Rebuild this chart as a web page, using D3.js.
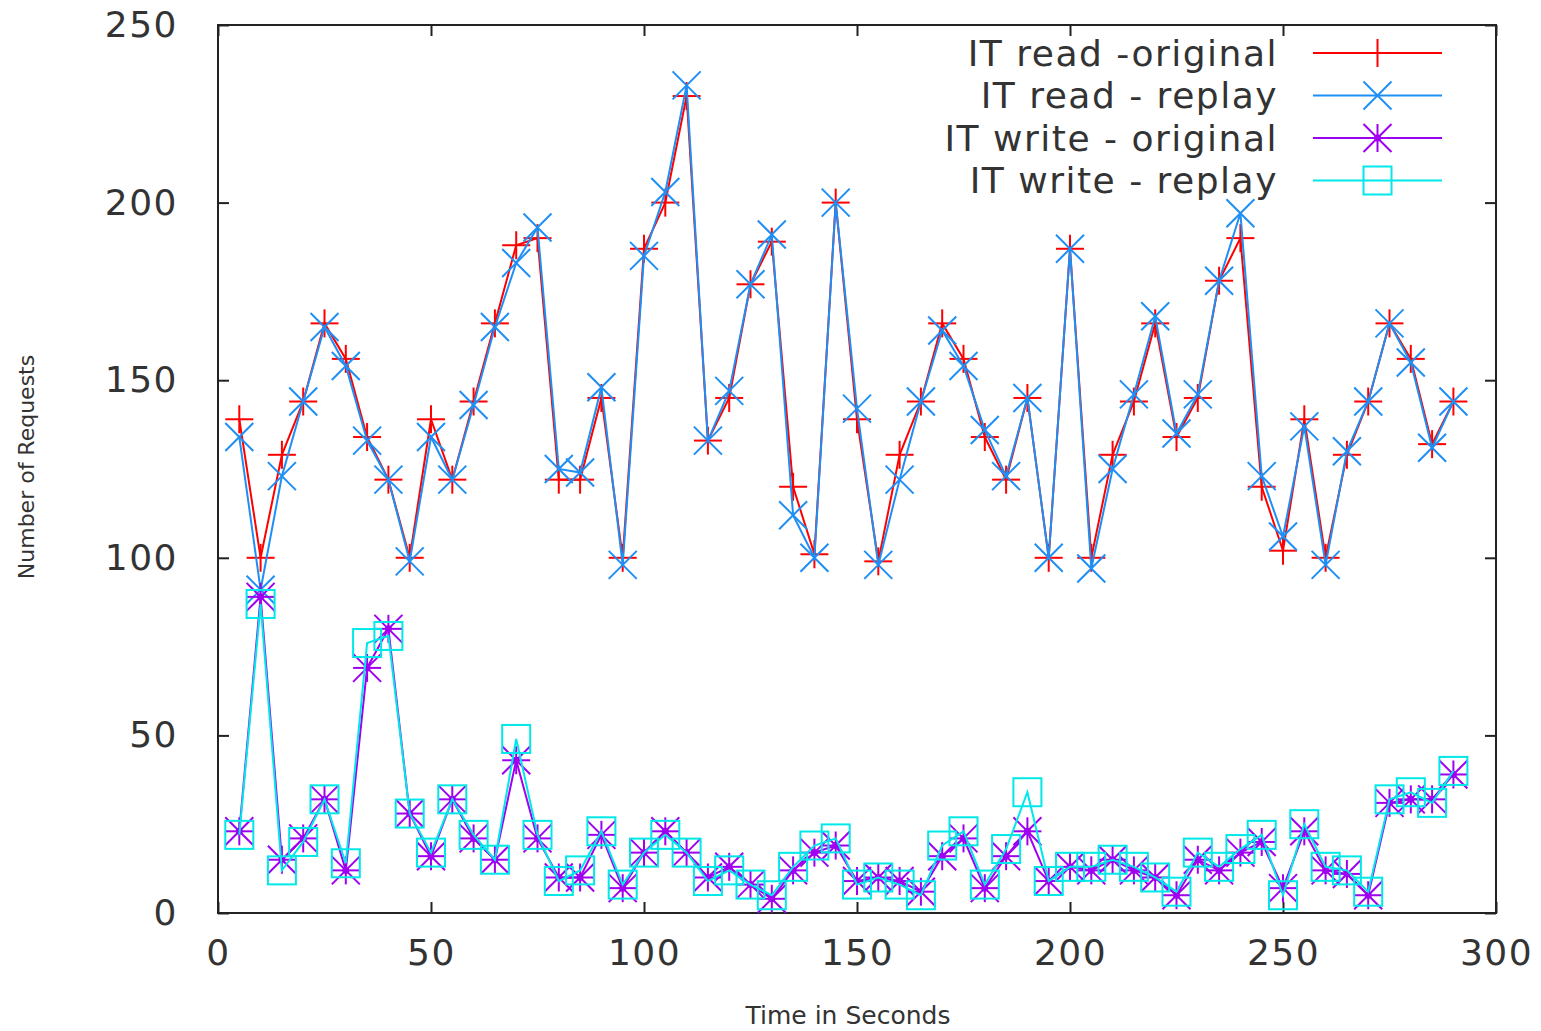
<!DOCTYPE html>
<html>
<head>
<meta charset="utf-8">
<script src="https://cdn.jsdelivr.net/npm/d3@7"></script>
<style>
  html, body { margin: 0; padding: 0; background: #fff; }
  svg { display: block; }
  text { font-family: "DejaVu Sans", sans-serif; fill: #333; }
</style>
</head>
<body>
<svg id="chart" width="1541" height="1031"></svg>
<script>
// ---- data ----
const times = [5,10,15,20,25,30,35,40,45,50,55,60,65,70,75,80,85,90,95,100,
  105,110,115,120,125,130,135,140,145,150,155,160,165,170,175,180,185,190,195,200,
  205,210,215,220,225,230,235,240,245,250,255,260,265,270,275,280,285,290];

const readOriginal = [139,100,129,144,166,156,134,122,100,139,122,144,166,188,190,122,122,145,100,187,
  200,230,133,145,177,189,120,101,200,139,99,129,144,166,156,134,122,145,100,187,
  100,129,144,166,134,145,178,190,120,102,139,100,129,144,166,156,132,144];

const readReplay = [134,91,123,144,165,154,133,122,99,134,122,143,165,183,193,125,124,148,98,185,
  203,233,133,147,177,191,112,100,200,142,98,122,144,164,154,136,123,145,100,187,
  97,125,146,168,135,146,178,197,123,106,137,98,130,144,166,155,131,144];

const writeOriginal = [23,89,15,21,32,12,69,80,28,16,32,21,15,43,21,10,10,22,7,17,
  23,17,10,13,8,4,12,17,19,9,10,9,6,16,21,7,16,23,9,13,
  12,15,12,10,5,15,12,17,20,7,23,12,11,5,31,32,32,39];

const writeReplay = [22,87,12,20,32,14,76,78,28,17,32,22,15,49,22,9,12,23,8,17,
  22,17,9,12,8,5,13,19,21,8,10,8,5,19,23,8,18,34,9,13,
  13,15,13,10,6,17,13,18,22,5,25,13,12,6,32,34,31,40];

const xTicks = [0,50,100,150,200,250,300];
const yTicks = [0,50,100,150,200,250];

const seriesNames = ["IT read -original", "IT read - replay", "IT write - original", "IT write - replay"];
const seriesColors = ["#ff0000", "#1e8ff5", "#a000f0", "#00e8e8"];
const seriesMarkers = ["plus", "cross", "star", "square"];
const seriesValues = [readOriginal, readReplay, writeOriginal, writeReplay];

// ---- layout ----
const pL = 218, pR = 1496, pT = 25, pB = 913;
const svg = d3.select("#chart");

const x = d3.scaleLinear().domain([0, 300]).range([pL, pR]);
const y = d3.scaleLinear().domain([0, 250]).range([pB, pT]);

const M = 14; // marker half size
function drawMarker(g, type, cx, cy, color) {
  const s = g.append("g").attr("transform", `translate(${cx},${cy})`)
    .attr("stroke", color).attr("stroke-width", 2).attr("fill", "none");
  if (type === "plus" || type === "star") {
    s.append("line").attr("x1", -M).attr("x2", M).attr("y1", 0).attr("y2", 0);
    s.append("line").attr("x1", 0).attr("x2", 0).attr("y1", -M).attr("y2", M);
  }
  if (type === "cross" || type === "star") {
    s.append("line").attr("x1", -M).attr("x2", M).attr("y1", -M).attr("y2", M);
    s.append("line").attr("x1", -M).attr("x2", M).attr("y1", M).attr("y2", -M);
  }
  if (type === "star") {
    s.append("circle").attr("r", 3.5).attr("fill", color).attr("stroke", "none");
  }
  if (type === "square") {
    s.append("rect").attr("x", -M).attr("y", -M).attr("width", 2 * M).attr("height", 2 * M);
  }
}

// ---- axes (ticks inward, mirrored) ----
const axisG = svg.append("g");
const tickLen = 11;

const bottomAxis = d3.axisBottom(x).tickValues(xTicks).tickSize(-tickLen).tickPadding(26).tickFormat(d3.format("d"));
const topAxis = d3.axisTop(x).tickValues(xTicks).tickSize(-tickLen).tickFormat("");
const leftAxis = d3.axisLeft(y).tickValues(yTicks).tickSize(-tickLen).tickPadding(40).tickFormat(d3.format("d"));
const rightAxis = d3.axisRight(y).tickValues(yTicks).tickSize(-tickLen).tickFormat("");

function styleAxis(g) {
  g.select(".domain").remove();
  g.selectAll(".tick line").attr("stroke", "#222").attr("stroke-width", 2);
  g.selectAll(".tick text").attr("font-family", "DejaVu Sans").attr("font-size", 36)
    .attr("letter-spacing", "1.5px").attr("fill", "#333");
}

axisG.append("g").attr("transform", `translate(0,${pB})`).call(bottomAxis).call(styleAxis)
  .selectAll(".tick text").attr("dy", "0.71em");
axisG.append("g").attr("transform", `translate(0,${pT})`).call(topAxis).call(styleAxis);
axisG.append("g").attr("transform", `translate(${pL},0)`).call(leftAxis).call(styleAxis);
axisG.append("g").attr("transform", `translate(${pR},0)`).call(rightAxis).call(styleAxis);

// frame
svg.append("rect").attr("x", pL).attr("y", pT).attr("width", pR - pL).attr("height", pB - pT)
  .attr("fill", "none").attr("stroke", "#222").attr("stroke-width", 2);

// axis titles
svg.append("text").attr("x", 848).attr("y", 1024)
  .attr("text-anchor", "middle").attr("font-size", 25).text("Time in Seconds");
svg.append("text").attr("transform", "translate(34,467) rotate(-90)")
  .attr("text-anchor", "middle").attr("font-size", 22).text("Number of Requests");

// ---- series ----
const line = d3.line().x((d, i) => x(times[i])).y(d => y(d));
seriesValues.forEach((vals, k) => {
  const g = svg.append("g");
  g.append("path").datum(vals).attr("d", line).attr("fill", "none")
    .attr("stroke", seriesColors[k]).attr("stroke-width", 2);
  vals.forEach((v, i) => drawMarker(g, seriesMarkers[k], x(times[i]), y(v), seriesColors[k]));
});

// ---- legend ----
const legendRows = [53, 95.5, 138, 180.5];
seriesNames.forEach((name, k) => {
  const ly = legendRows[k];
  const g = svg.append("g");
  g.append("text").attr("x", 1278).attr("y", ly).attr("dy", "0.36em")
    .attr("text-anchor", "end").attr("font-size", 36).attr("letter-spacing", "1.5px").text(name);
  g.append("line").attr("x1", 1313).attr("x2", 1442).attr("y1", ly).attr("y2", ly)
    .attr("stroke", seriesColors[k]).attr("stroke-width", 2);
  drawMarker(g, seriesMarkers[k], 1377.5, ly, seriesColors[k]);
});
</script>
</body>
</html>
